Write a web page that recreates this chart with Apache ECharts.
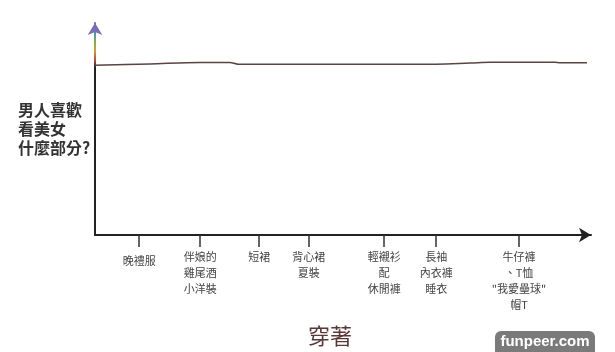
<!DOCTYPE html>
<html>
<head>
<meta charset="utf-8">
<script src="https://cdn.jsdelivr.net/npm/echarts@6/dist/echarts.min.js"></script>
<style>html,body{margin:0;padding:0;background:#fff;}#c{width:615px;height:352px;}</style>
</head>
<body>
<div id="c"></div>
<script>
// Categories along the hand-drawn x axis and where each sits on the sketch's 0-100 scale
var categories = ['晚禮服', '伴娘的\n雞尾酒\n小洋裝', '短裙', '背心裙\n夏裝', '輕襯衫\n配\n休閒褲', '長袖\n內衣褲\n睡衣', '牛仔褲\n、T恤\n"我愛壘球"\n帽T'];
var categoryAt = [8.9, 21.2, 33.1, 43.1, 58.3, 68.8, 85.5];
// The (nearly flat) interest line
var lineX = [0, 11.1, 21.2, 27.2, 28.8, 47.4, 65.5, 75.6, 79.6, 92.7, 93.8, 99.2];
var lineY = [80.1, 80.7, 81.4, 81.4, 80.6, 80.5, 80.5, 81.1, 81.5, 81.5, 81.2, 81.2];
var yName = '男人喜歡\n看美女\n什麼部分?';
var xName = '穿著';
var watermark = 'funpeer.com';

var chart = echarts.init(document.getElementById('c'), null, {renderer: 'canvas'});
var FONT = '"Noto Sans CJK TC", "Noto Sans", sans-serif';
var yGrad = new echarts.graphic.LinearGradient(0, 17, 0, 243, [
  {offset: 0, color: '#7a6cb8'},
  {offset: 0.045, color: '#6a70b8'},
  {offset: 0.075, color: '#3f9fb0'},
  {offset: 0.11, color: '#80b040'},
  {offset: 0.15, color: '#d0a030'},
  {offset: 0.19, color: '#c04a40'},
  {offset: 0.225, color: '#222'},
  {offset: 1, color: '#222'}
], true);

var option = {
  animation: false,
  backgroundColor: '#fff',
  grid: {left: 95, right: 24, top: 23, bottom: 109},
  xAxis: {
    type: 'value', min: 0, max: 100,
    name: xName, nameLocation: 'middle', nameGap: 90,
    nameTextStyle: {fontFamily: FONT, fontSize: 22, color: '#5a3838', padding: [0, 26, 0, 0]},
    axisLine: {show: true, symbol: ['none', 'arrow'], symbolSize: [11, 12], lineStyle: {color: '#222', width: 2}},
    axisTick: {show: true, customValues: categoryAt, length: 12, lineStyle: {color: '#333', width: 1.5}},
    axisLabel: {
      show: true, customValues: categoryAt, margin: 14,
      fontFamily: FONT, fontSize: 11, color: '#444', lineHeight: 16, verticalAlign: 'top',
      formatter: function (v) {
        var i = categoryAt.indexOf(v);
        if (i < 0) return '';
        return i === 0 ? '{low|' + categories[i] + '}' : categories[i];
      },
      rich: {low: {fontFamily: FONT, fontSize: 11, color: '#444', lineHeight: 16, padding: [8, 0, 0, 0]}}
    },
    splitLine: {show: false}
  },
  yAxis: {
    type: 'value', min: 0, max: 100,
    name: yName, nameLocation: 'middle', nameRotate: 0, nameGap: 77,
    nameTextStyle: {fontFamily: FONT, fontSize: 16, fontWeight: 'bold', color: '#333', lineHeight: 19, align: 'left', verticalAlign: 'middle', padding: [8, 0, 0, 0]},
    axisLine: {show: true, symbol: ['none', 'arrow'], symbolSize: [11, 12], lineStyle: {color: yGrad, width: 2}},
    axisTick: {show: false},
    axisLabel: {show: false},
    splitLine: {show: false}
  },
  series: [{
    type: 'line',
    data: lineX.map(function (x, i) { return [x, lineY[i]]; }),
    showSymbol: false,
    smooth: 0.3,
    lineStyle: {color: '#5a4444', width: 1.5},
    z: 1
  }],
  graphic: [{
    type: 'group', x: 495, y: 331,
    children: [
      {type: 'rect', shape: {x: 0, y: 0, width: 100, height: 22, r: [6, 6, 0, 0]}, style: {fill: '#7a7a7a'}},
      {type: 'text', x: 50, y: 11, style: {text: watermark, fill: '#fff', font: 'bold 15px "Liberation Sans", Arial, sans-serif', align: 'center', verticalAlign: 'middle'}}
    ]
  }]
};
chart.setOption(option);
</script>
</body>
</html>
